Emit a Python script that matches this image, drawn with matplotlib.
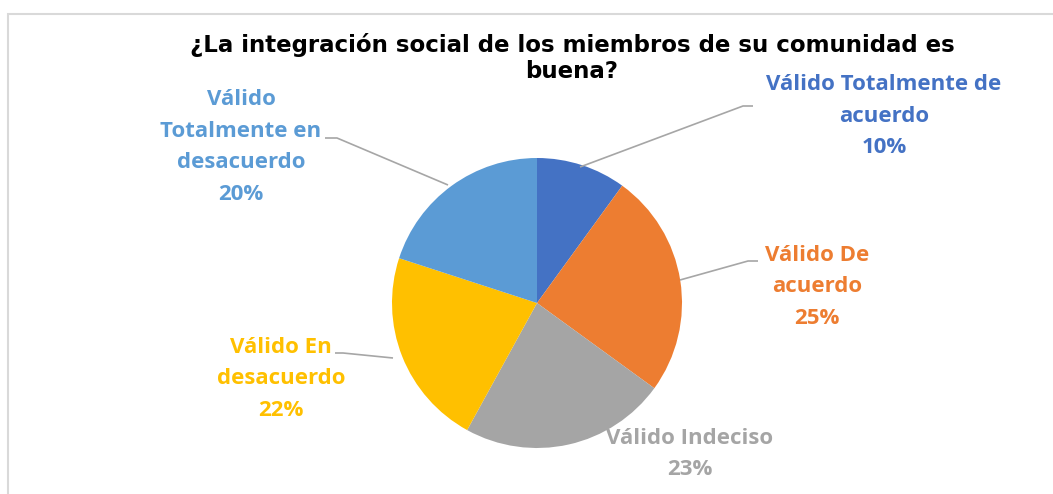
import matplotlib
matplotlib.use("Agg")
import matplotlib.pyplot as plt
from matplotlib.patches import Rectangle

title_lines = ["¿La integración social de los miembros de su comunidad es", "buena?"]
labels = ["Válido Totalmente de\nacuerdo", "Válido De\nacuerdo", "Válido Indeciso",
          "Válido En\ndesacuerdo", "Válido\nTotalmente en\ndesacuerdo"]
values = [10, 25, 23, 22, 20]
colors = ["#4472C4", "#ED7D31", "#A5A5A5", "#FFC000", "#5B9BD5"]

W, H = 1053, 494
fig = plt.figure(figsize=(W / 100, H / 100), dpi=100)
ax = fig.add_axes([0, 0, 1, 1])

def Y(y):
    return H - y

# frame
ax.add_patch(Rectangle((8, Y(600)), 1100, 600 - 14, fill=False,
                       edgecolor="#D9D9D9", linewidth=1.5, zorder=0))

# pie
cx, cy, r = 537, 303, 145
ax.pie(values, colors=colors, startangle=90, counterclock=False,
       center=(cx, Y(cy)), radius=r, frame=True,
       wedgeprops=dict(linewidth=0))
ax.set_xlim(0, W)
ax.set_ylim(0, H)
ax.set_aspect("equal")
ax.axis("off")

# title (two lines as separate texts)
title_font = dict(ha="center", va="center", fontsize=16.5, fontweight="bold",
                  family=["DejaVu Sans"], color="black")
ax.text(572, Y(45), title_lines[0], **title_font)
ax.text(572, Y(72), title_lines[1], **title_font)

# data labels
lab_font = dict(fontsize=16, fontweight="bold", family=["Open Sans", "DejaVu Sans"],
                ha="center", va="center", linespacing=1.68)
label_pos = [(884, 116), (817, 287), (690, 454), (281, 379), (241, 147)]
for lab, v, c, (x, y) in zip(labels, values, colors, label_pos):
    ax.text(x, Y(y), f"{lab}\n{v}%", color=c, **lab_font)

# leader lines
leaders = [
    [(580, 167), (743, 106), (753, 106)],
    [(680, 280), (748, 261), (758, 261)],
    [(448, 185), (337, 138), (325, 138)],
    [(393, 358), (343, 353), (335, 353)],
]
for pts in leaders:
    xs = [p[0] for p in pts]
    ys = [Y(p[1]) for p in pts]
    ax.plot(xs, ys, color="#A6A6A6", linewidth=1.2, solid_capstyle="butt")

fig.savefig("out.png", dpi=100)
